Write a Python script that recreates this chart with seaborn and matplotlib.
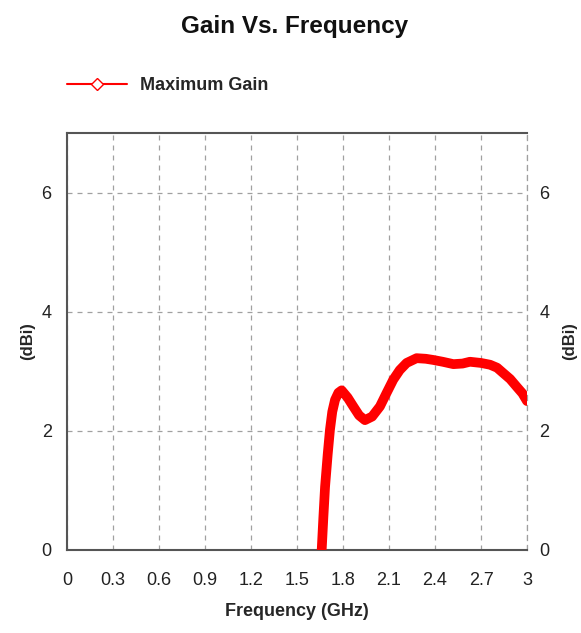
import matplotlib
matplotlib.use("Agg")
import matplotlib.pyplot as plt
import seaborn as sns
import pandas as pd
from matplotlib.lines import Line2D

freq_ghz = [1.661, 1.672, 1.683, 1.700, 1.715, 1.730, 1.748, 1.770, 1.791, 1.830, 1.867,
            1.905, 1.943, 1.990, 2.041, 2.085, 2.128, 2.170, 2.215, 2.280, 2.340, 2.389,
            2.450, 2.520, 2.580, 2.628, 2.700, 2.759, 2.805, 2.845, 2.890, 2.933, 2.970, 3.0]
gain_dbi = [0.0, 0.55, 1.06, 1.60, 2.02, 2.32, 2.52, 2.64, 2.68, 2.56, 2.41,
            2.26, 2.18, 2.24, 2.41, 2.64, 2.86, 3.02, 3.14, 3.22, 3.21, 3.19,
            3.16, 3.12, 3.13, 3.16, 3.14, 3.11, 3.06, 2.97, 2.87, 2.74, 2.63, 2.50]
x_ticks = [0, 0.3, 0.6, 0.9, 1.2, 1.5, 1.8, 2.1, 2.4, 2.7, 3]
x_tick_labels = ["0", "0.3", "0.6", "0.9", "1.2", "1.5", "1.8", "2.1", "2.4", "2.7", "3"]
y_ticks = [0, 2, 4, 6]
y_tick_labels = ["0", "2", "4", "6"]
series_name = "Maximum Gain"

sns.set_style("white")
plt.rcParams['font.family'] = ['Liberation Sans Narrow', 'Liberation Sans', 'DejaVu Sans']

df = pd.DataFrame({"Frequency": freq_ghz, "Gain": gain_dbi})

fig = plt.figure(figsize=(5.81, 6.33), dpi=100)
ax = fig.add_axes([67/581, 83/633, 460/581, 417/633])

sns.lineplot(data=df, x="Frequency", y="Gain", ax=ax, color="#ff0000",
             linewidth=7, solid_capstyle="round", solid_joinstyle="round", zorder=3)

ax.set_xlim(0, 3)
ax.set_ylim(0, 7)
ax.set_xticks(x_ticks)
ax.set_xticklabels(x_tick_labels)
ax.set_yticks(y_ticks)
ax.set_yticklabels(y_tick_labels)
ax.grid(True, color="#a0a0a0", linestyle=(0, (4, 4)), linewidth=0.9)
ax.tick_params(axis="x", labelsize=13, colors="#222222", length=0, pad=16)
ax.tick_params(axis="y", labelsize=13, colors="#222222", length=0, pad=11)

for side in ["left", "bottom", "top"]:
    ax.spines[side].set_color("#555555")
    ax.spines[side].set_linewidth(1.5)
ax.spines["right"].set_color("#a0a0a0")
ax.spines["right"].set_linestyle((0, (4, 4)))
ax.spines["right"].set_linewidth(0.9)

ax.set_xlabel("Frequency (GHz)", fontsize=13, fontweight="bold", va="center")
ax.xaxis.set_label_coords(0.5, (550 - 612) / 417)
ax.set_ylabel("(dBi)", fontsize=12, fontweight="bold", va="center")
ax.yaxis.set_label_coords((28 - 67) / 460, 0.5)

ax2 = ax.twinx()
ax2.set_ylim(0, 7)
ax2.set_yticks(y_ticks)
ax2.set_yticklabels(y_tick_labels)
ax2.tick_params(axis="y", labelsize=13, colors="#222222", length=0, pad=9)
ax2.set_ylabel("(dBi)", fontsize=12, fontweight="bold", va="center", rotation=90)
ax2.yaxis.set_label_coords((570 - 67) / 460, 0.5)
for s in ax2.spines.values():
    s.set_visible(False)

fig.text(295/581, 1 - 26/633, "Gain Vs. Frequency", ha="center", va="center",
         fontsize=17.5, fontweight="bold", color="#111111")

proxy = Line2D([0], [0], color="#ff0000", linewidth=1.5, marker="D", markersize=6,
               markerfacecolor="white", markeredgecolor="#ff0000")
ax.legend(handles=[proxy], labels=[series_name], loc="center left",
          bbox_to_anchor=(67/581, 1 - 86/633), bbox_transform=fig.transFigure,
          frameon=False, prop={"weight": "bold", "size": 13},
          handlelength=3.3, handletextpad=0.75, borderpad=0, borderaxespad=0)

fig.savefig("out.png", dpi=100)
